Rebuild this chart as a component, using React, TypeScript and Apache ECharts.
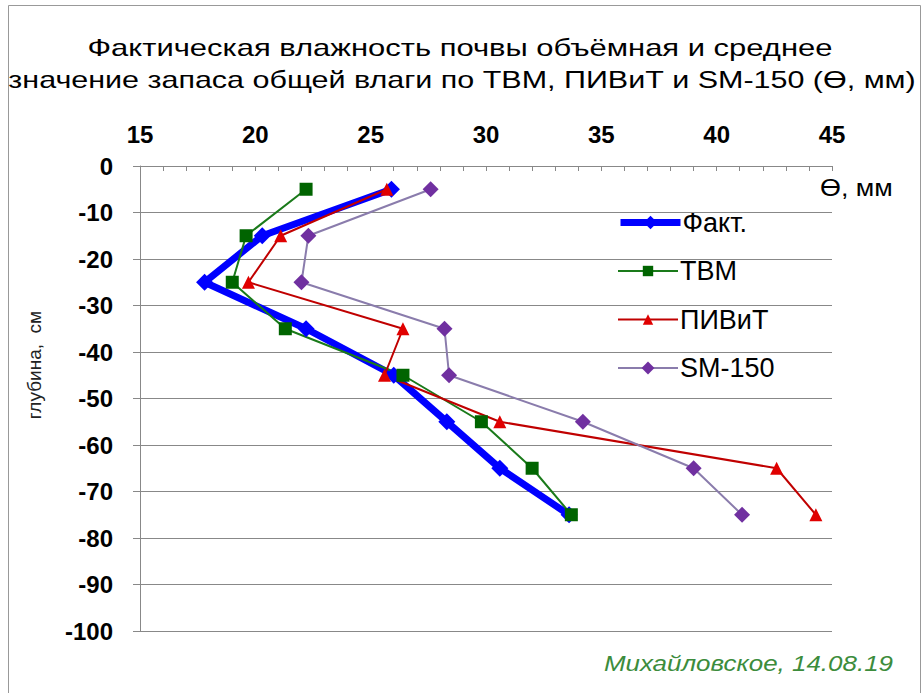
import React, { useEffect, useRef } from "react";
import * as echarts from "echarts";

const depths = [-5, -15, -25, -35, -45, -55, -65, -75];
const fakt = [25.9, 20.3, 17.8, 22.2, 26.0, 28.3, 30.6, 33.6];
const tvm = [22.2, 19.6, 19.0, 21.3, 26.4, 29.8, 32.0, 33.7];
const pivit = [25.7, 21.1, 19.7, 26.4, 25.6, 30.6, 42.6, 44.3];
const sm150 = [27.6, 22.3, 22.0, 28.2, 28.4, 34.2, 39.0, 41.1];
const seriesNames = ["Факт.", "ТВМ", "ПИВиТ", "SM-150"];
const titleLines = [
  "Фактическая влажность почвы объёмная и среднее",
  "значение запаса общей влаги по ТВМ, ПИВиТ и SM-150 (Ө, мм)",
];
const xAxisName = "Ө, мм";
const yAxisName = "глубина,  см";
const note = "Михайловское, 14.08.19";

const FONT = "Liberation Sans, Arial, sans-serif";

export default function App() {
  const ref = useRef<HTMLDivElement>(null);
  useEffect(() => {
    if (!ref.current) return;
    const chart = echarts.init(ref.current, null, { renderer: "svg" });
    const pair = (vals: number[]) => vals.map((v, i) => [v, depths[i]]);
    const legendCenters = [223, 271.5, 320, 368.5];
    const legendLineWidths = [7, 2, 2, 2];
    const legendIconHeights = [17, 13, 13, 16];
    chart.setOption({
      animation: false,
      backgroundColor: "#fff",
      textStyle: { fontFamily: FONT },
      grid: { left: 140, right: 92, top: 166, bottom: 62, containLabel: false },
      xAxis: {
        type: "value",
        position: "top",
        min: 15,
        max: 45,
        interval: 5,
        axisLine: { show: true, lineStyle: { color: "#888", width: 1 } },
        axisTick: { show: true, inside: true, length: 5, lineStyle: { color: "#888" } },
        minorTick: { show: true, splitNumber: 5, length: 5, lineStyle: { color: "#888" } },
        splitLine: { show: false },
        axisLabel: { fontSize: 24, fontWeight: "bold", color: "#000", margin: 20, fontFamily: FONT },
      },
      yAxis: {
        type: "value",
        min: -100,
        max: 0,
        interval: 10,
        axisLine: { show: true, lineStyle: { color: "#888", width: 1 } },
        axisTick: { show: true, inside: false, length: 7, lineStyle: { color: "#888" } },
        splitLine: { show: true, lineStyle: { color: "#888", width: 1 } },
        axisLabel: { fontSize: 24, fontWeight: "bold", color: "#000", margin: 27, fontFamily: FONT },
      },
      legend: seriesNames.map((n, i) => ({
        data: [n],
        left: 617,
        top: legendCenters[i] - 14,
        padding: 0,
        itemWidth: 60,
        itemHeight: legendIconHeights[i],
        itemGap: 0,
        lineStyle: { width: legendLineWidths[i] },
        textStyle: { fontSize: 27, color: "#000", fontFamily: FONT, padding: [0, 0, 0, -3] },
      })),
      series: [
        {
          name: seriesNames[0],
          type: "line",
          data: pair(fakt),
          symbol: "diamond",
          symbolSize: 17,
          lineStyle: { color: "#0000ff", width: 7 },
          itemStyle: { color: "#0000ff" },
        },
        {
          name: seriesNames[1],
          type: "line",
          data: pair(tvm),
          symbol: "rect",
          symbolSize: 13,
          lineStyle: { color: "#1a7a1a", width: 2 },
          itemStyle: { color: "#006400" },
        },
        {
          name: seriesNames[2],
          type: "line",
          data: pair(pivit),
          symbol: "triangle",
          symbolSize: 13,
          lineStyle: { color: "#c00000", width: 2 },
          itemStyle: { color: "#e00000" },
        },
        {
          name: seriesNames[3],
          type: "line",
          data: pair(sm150),
          symbol: "diamond",
          symbolSize: 16,
          lineStyle: { color: "#8a7cac", width: 2 },
          itemStyle: { color: "#7030a0" },
        },
      ],
      graphic: [
        {
          type: "rect",
          shape: { x: 8.5, y: 5.5, width: 912, height: 700 },
          style: { fill: "none", stroke: "#999", lineWidth: 1 },
          silent: true,
        },
        {
          type: "text",
          x: 460,
          y: 48,
          scaleX: 1.29,
          style: {
            text: titleLines[0],
            fontSize: 24,
            fontFamily: FONT,
            fill: "#000",
            align: "center",
            verticalAlign: "middle",
          },
        },
        {
          type: "text",
          x: 462,
          y: 80,
          scaleX: 1.27,
          style: {
            text: titleLines[1],
            fontSize: 24,
            fontFamily: FONT,
            fill: "#000",
            align: "center",
            verticalAlign: "middle",
          },
        },
        {
          type: "text",
          x: 820,
          y: 188,
          scaleX: 1.12,
          style: {
            text: xAxisName,
            fontSize: 24,
            fontFamily: FONT,
            fill: "#000",
            align: "left",
            verticalAlign: "middle",
          },
        },
        {
          type: "text",
          x: 34,
          y: 365,
          rotation: Math.PI / 2,
          style: {
            text: yAxisName,
            fontSize: 19,
            fontFamily: FONT,
            fill: "#222",
            align: "center",
            verticalAlign: "middle",
          },
        },
        {
          type: "text",
          x: 893,
          y: 663,
          scaleX: 1.18,
          style: {
            text: note,
            fontSize: 22,
            fontStyle: "italic",
            fontFamily: FONT,
            fill: "#3c8c3c",
            align: "right",
            verticalAlign: "middle",
          },
        },
      ],
    });
    return () => chart.dispose();
  }, []);
  return (
    <div
      ref={ref}
      style={{ position: "fixed", left: 0, top: 0, width: 924, height: 693 }}
    />
  );
}
